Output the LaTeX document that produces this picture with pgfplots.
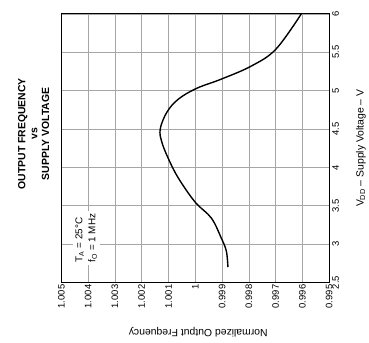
\documentclass[border=0pt]{standalone}
\usepackage{pgfplots}
\pgfplotsset{compat=1.18}
\usepackage{fontspec}
\setmainfont{Liberation Sans}
\begin{document}
\begin{tikzpicture}
\begin{axis}[
  scale only axis,
  width=270pt, height=271pt,
  x dir=reverse,
  xmin=0.995, xmax=1.005,
  ymin=2.5, ymax=6,
  xtick={0.995,0.996,0.997,0.998,0.999,1,1.001,1.002,1.003,1.004,1.005},
  xticklabels={0.995,0.996,0.997,0.998,0.999,1,1.001,1.002,1.003,1.004,1.005},
  ytick={2.5,3,3.5,4,4.5,5,5.5,6},
  yticklabels={2.5,3,3.5,4,4.5,5,5.5,6},
  yticklabel pos=right,
  xticklabel style={rotate=90, anchor=east, font=\fontsize{9.5}{10}\selectfont, inner sep=2pt},
  yticklabel style={rotate=90, anchor=north, font=\fontsize{9.5}{10}\selectfont, inner sep=3pt},
  major tick length=0pt,
  grid=major,
  major grid style={gray!70, line width=0.6pt},
  axis line style={line width=1.1pt},
  clip=false,
]
\addplot[black, line width=1.4pt, smooth, tension=0.6] coordinates {
(0.99878, 2.70)
(0.99884, 2.91)
(0.99903, 3.08)
(0.99940, 3.34)
(1.00001, 3.55)
(1.00063, 3.86)
(1.00100, 4.11)
(1.00125, 4.33)
(1.00131, 4.50)
(1.00106, 4.72)
(1.00063, 4.89)
(0.99995, 5.03)
(0.99903, 5.15)
(0.99791, 5.32)
(0.99699, 5.54)
(0.99604, 6.00)
};
\node[rotate=90, fill=white, align=left, inner sep=3pt, font=\fontsize{10}{13}\selectfont]
  at (axis description cs:0.0926,0.166) {T\textsubscript{A} = 25°C\\f\textsubscript{O} = 1 MHz};
\node[rotate=90, align=center, font=\bfseries\fontsize{10.5}{12}\selectfont]
  at (axis description cs:-0.1037,0.5535) {OUTPUT FREQUENCY\\vs\\SUPPLY VOLTAGE};
\node[rotate=180, font=\fontsize{10.5}{12}\selectfont]
  at (axis description cs:0.511,-0.1845) {Normalized Output Frequency};
\node[rotate=90, font=\fontsize{10.5}{12}\selectfont]
  at (axis description cs:1.1185,0.5) {V\textsubscript{DD} -- Supply Voltage -- V};
\path (axis description cs:-0.2296,-0.2214) rectangle (axis description cs:1.137,1.0517);
\end{axis}
\end{tikzpicture}
\end{document}
